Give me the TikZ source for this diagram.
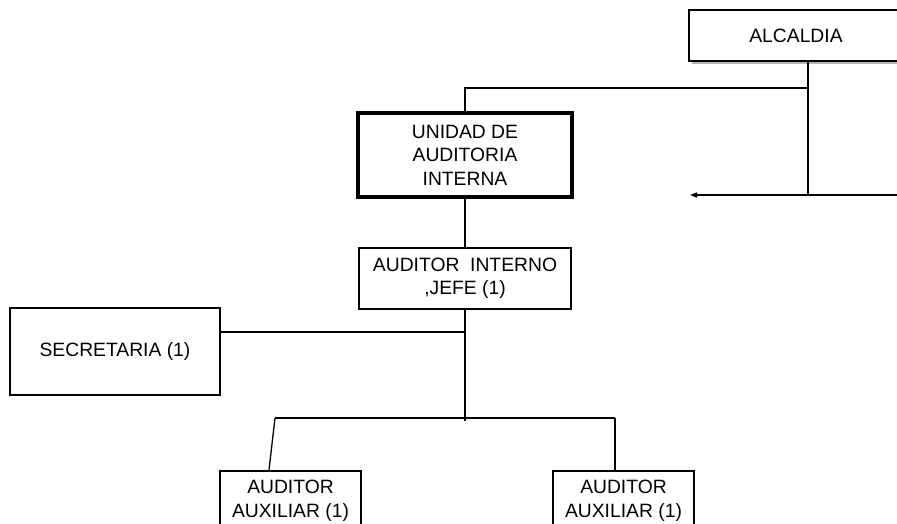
\documentclass[tikz,border=0pt]{standalone}
\usepackage{fontspec}
\setmainfont{Liberation Sans}
\usetikzlibrary{shadows,arrows.meta}

\begin{document}
\begin{tikzpicture}[x=1pt,y=-1pt,
  caja/.style={draw, fill=white, line width=1.6pt, inner sep=0pt, align=center,
    font=\fontsize{19.3}{23.5}\selectfont},
  linea/.style={line width=1.3pt},
  tronco/.style={line width=2pt}]
  \useasboundingbox (0,0) rectangle (897,524);
  \clip (0,0) rectangle (897,524);

  % Cajas del organigrama
  \node[caja, minimum width=214pt, minimum height=51pt,
    drop shadow={shadow xshift=2.5pt, shadow yshift=-3pt, fill=gray!60, opacity=1}]
    (alcaldia) at (796,35.5) {ALCALDIA};
  \node[caja, line width=3.5pt, minimum width=214pt, minimum height=84pt]
    (unidad) at (465,155) {UNIDAD DE\\AUDITORIA\\INTERNA};
  \node[caja, minimum width=212pt, minimum height=61pt]
    (jefe) at (465,278.5) {AUDITOR\ \ INTERNO\\,JEFE (1)};
  \node[caja, minimum width=210pt, minimum height=87pt]
    (secretaria) at (115,351.5) {SECRETARIA (1)};
  \node[caja, line width=2pt, minimum width=141pt, minimum height=60pt]
    (auxizq) at (290.5,501) {AUDITOR\\AUXILIAR (1)};
  \node[caja, line width=2pt, minimum width=141pt, minimum height=60pt]
    (auxder) at (623.5,501) {AUDITOR\\AUXILIAR (1)};

  % Puntos de quiebre
  \coordinate (bajada) at (808,88);
  \coordinate (nudo) at (808,195);
  \coordinate (codo) at (465,88);
  \coordinate (flechaini) at (900,195);
  \coordinate (flechafin) at (690,195);
  \coordinate (cruce) at (465,332);
  \coordinate (rama) at (465,421);
  \coordinate (ramaizq) at (275,418);
  \coordinate (ramader) at (615,418);

  % Conectores
  \draw[tronco] (alcaldia.south -| bajada) -- (nudo);
  \draw[linea] (bajada) -- (codo) -- (unidad.north);
  \draw[linea, -{Triangle[length=7pt,width=5pt]}] (flechaini) -- (flechafin);
  \draw[tronco] (unidad.south) -- (jefe.north);
  \draw[tronco] (jefe.south) -- (rama);
  \draw[linea] (secretaria.east |- cruce) -- (cruce);
  \draw[linea] (ramaizq) -- (ramader);
  \draw[linea] (ramaizq) -- ([xshift=-21.5pt]auxizq.north);
  \draw[linea] (ramader) -- (ramader |- auxder.north);
\end{tikzpicture}
\end{document}
